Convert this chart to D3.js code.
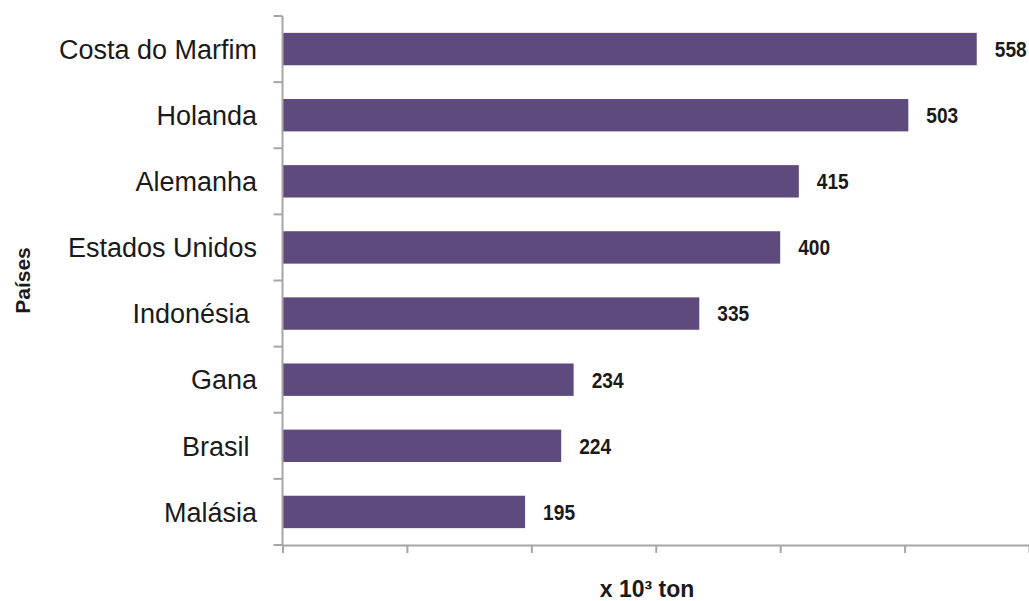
<!DOCTYPE html>
<html>
<head>
<meta charset="utf-8">
<script src="https://cdn.jsdelivr.net/npm/d3@7"></script>
<style>
  html, body { margin: 0; padding: 0; background: #ffffff; }
  svg { display: block; }
  text { white-space: pre; }
</style>
</head>
<body>
<svg id="chart" width="1029" height="601"></svg>
<script>
// Countries, top to bottom, and their values (x 10³ ton)
const countries = ["Costa do Marfim", "Holanda", "Alemanha", "Estados Unidos", "Indonésia ", "Gana", "Brasil ", "Malásia"];
const values = [558, 503, 415, 400, 335, 234, 224, 195];
const xTicks = [0, 100, 200, 300, 400, 500, 600];
const yTitle = "Países";
const xTitle = "x 10³ ton";

const svg = d3.select("#chart");
const plot = { left: 282.5, right: 1029, top: 16, bottom: 545 };

const x = d3.scaleLinear().domain([0, 600]).range([plot.left, plot.right]);
const y = d3.scaleBand()
  .domain(countries)
  .range([plot.top, plot.bottom])
  .paddingInner(0.51)
  .paddingOuter(0.255);

const axisColor = "#a6a6a6";
const barColor = "#5e4a7c";
const textColor = "#1a1a1a";
const font = "'Liberation Sans', Arial, sans-serif";

// bars
svg.append("g").selectAll("rect")
  .data(countries)
  .join("rect")
  .attr("x", x(0))
  .attr("y", d => y(d))
  .attr("width", (d, i) => x(values[i]) - x(0))
  .attr("height", y.bandwidth())
  .attr("fill", barColor);

// horizontal axis
const xAxis = svg.append("g")
  .attr("transform", `translate(0,${plot.bottom})`)
  .call(d3.axisBottom(x).tickValues(xTicks).tickFormat("").tickSize(8).tickSizeOuter(0));
xAxis.select(".domain").attr("stroke", axisColor).attr("stroke-width", 2);
xAxis.selectAll(".tick line").attr("stroke", axisColor).attr("stroke-width", 2);

// vertical axis with ticks on category boundaries
const step = y.step();
const boundaries = d3.range(countries.length + 1).map(i => plot.top + i * step);
const yAxis = svg.append("g");
yAxis.append("line")
  .attr("x1", plot.left).attr("x2", plot.left)
  .attr("y1", plot.top).attr("y2", plot.bottom)
  .attr("stroke", axisColor).attr("stroke-width", 2);
yAxis.selectAll("line.tk")
  .data(boundaries)
  .join("line")
  .attr("class", "tk")
  .attr("x1", plot.left - 9).attr("x2", plot.left)
  .attr("y1", d => d).attr("y2", d => d)
  .attr("stroke", axisColor).attr("stroke-width", 2);

// category labels
svg.append("g").selectAll("text")
  .data(countries)
  .join("text")
  .attr("x", 257)
  .attr("y", d => y(d) + y.bandwidth() / 2)
  .attr("dy", "0.36em")
  .attr("text-anchor", "end")
  .attr("font-family", font)
  .attr("font-size", 27)
  .attr("fill", textColor)
  .text(d => d);

// value labels (slightly condensed bold)
svg.append("g").selectAll("text")
  .data(countries)
  .join("text")
  .attr("transform", (d, i) => `translate(${x(values[i]) + 18},${y(d) + y.bandwidth() / 2}) scale(0.87,1)`)
  .attr("dy", "0.36em")
  .attr("font-family", font)
  .attr("font-weight", "bold")
  .attr("font-size", 22)
  .attr("fill", textColor)
  .text((d, i) => values[i]);

// axis titles
svg.append("text")
  .attr("transform", `translate(30,${(plot.top + plot.bottom) / 2}) rotate(-90)`)
  .attr("text-anchor", "middle")
  .attr("font-family", font)
  .attr("font-weight", "bold")
  .attr("font-size", 21)
  .attr("fill", textColor)
  .text(yTitle);

svg.append("text")
  .attr("x", 647)
  .attr("y", 597)
  .attr("text-anchor", "middle")
  .attr("font-family", font)
  .attr("font-weight", "bold")
  .attr("font-size", 23)
  .attr("fill", textColor)
  .text(xTitle);
</script>
</body>
</html>
